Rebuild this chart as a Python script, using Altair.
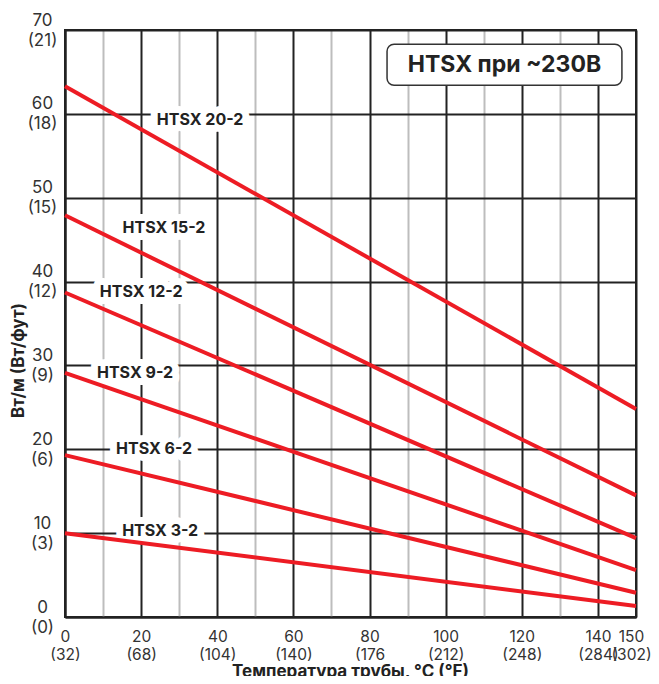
import json
import altair as alt
import pandas as pd

# ---- data ----
temps_c = [0, 150]
series_names = ["HTSX 20-2", "HTSX 15-2", "HTSX 12-2", "HTSX 9-2", "HTSX 6-2", "HTSX 3-2"]
watts_at_start = [63.3, 47.9, 38.7, 29.1, 19.3, 10.0]
watts_at_end = [24.8, 14.5, 9.4, 5.6, 2.9, 1.3]

label_temp = [35.5, 26.0, 20.0, 18.4, 23.4, 25.0]
label_watts = [59.3, 46.4, 38.8, 29.1, 20.0, 10.3]

x_tick_values = [0, 10, 20, 30, 40, 50, 60, 70, 80, 90, 100, 110, 120, 130, 140, 150]
x_tick_c = ["0", "", "20", "", "40", "", "60", "", "80", "", "100", "", "120", "", "140", "150"]
x_tick_f = ["(32)", "", "(68)", "", "(104)", "", "(140)", "", "(176", "", "(212)", "", "(248)", "", "(284)", "(302)"]

y_tick_values = [0, 10, 20, 30, 40, 50, 60, 70]
y_tick_w = ["0", "10", "20", "30", "40", "50", "60", "70"]
y_tick_ft = ["(0)", "(3)", "(6)", "(9)", "(12)", "(15)", "(18)", "(21)"]

box_text = "HTSX при ~230В"
box_temp = [84.6, 146.3]
box_watts = [63.4, 68.3]

# ---- tables ----
rows = []
for name, w0, w1 in zip(series_names, watts_at_start, watts_at_end):
    rows.append({"series": name, "t": temps_c[0], "w": w0})
    rows.append({"series": name, "t": temps_c[1], "w": w1})
lines_df = pd.DataFrame(rows)

labels_df = pd.DataFrame({"series": series_names, "t": label_temp, "w": label_watts})
box_df = pd.DataFrame({"t": [box_temp[0]], "t2": [box_temp[1]], "w": [box_watts[0]], "w2": [box_watts[1]]})
box_text_df = pd.DataFrame({"t": [(box_temp[0] + box_temp[1]) / 2],
                            "w": [(box_watts[0] + box_watts[1]) / 2], "series": [box_text]})

x_lab = [[c, f] if c else "" for c, f in zip(x_tick_c, x_tick_f)]
y_lab = [[a, b] for a, b in zip(y_tick_w, y_tick_ft)]
x_expr = json.dumps(x_lab, ensure_ascii=False) + "[round(datum.value/10)]"
y_expr = json.dumps(y_lab, ensure_ascii=False) + "[round(datum.value/10)]"

FONT = "Inter"
RED = "#ED1C24"
DARK = "#222222"

xscale = alt.Scale(domain=[0, 150], nice=False, zero=False)
yscale = alt.Scale(domain=[0, 70], nice=False, zero=False)

grid_color = alt.condition("datum.value % 20 == 0 || datum.value == 150",
                           alt.value(DARK), alt.value("#bdbdbd"))
x_label_shift = alt.condition("datum.value == 150", alt.value(-5),
                              alt.value(0))

x_axis = alt.Axis(
    values=x_tick_values, labelExpr=x_expr, labelOverlap=False, labelFlush=False,
    ticks=False, tickSize=0, labelPadding=19, labelFontSize=15.5, labelLineHeight=18,
    labelFont=FONT, labelColor="#333", labelBaseline="middle", labelOffset=x_label_shift,
    grid=True, gridColor=grid_color, gridWidth=2, gridOpacity=1,
    domain=True, domainColor=DARK, domainWidth=2,
    title="Температура трубы, °C (°F)", titleFont=FONT, titleFontSize=17,
    titleFontWeight="bold", titleColor=DARK, titleX=285, titleY=59,
    titleBaseline="alphabetic", titleAlign="center",
)
y_axis = alt.Axis(
    values=y_tick_values, labelExpr=y_expr, labelOverlap=False, labelFlush=False,
    ticks=False, tickSize=0, labelPadding=23, labelFontSize=17, labelLineHeight=20,
    labelFont=FONT, labelColor="#333", labelAlign="center", labelBaseline="middle",
    labelOffset=-10,
    grid=True, gridColor=DARK, gridWidth=2, gridOpacity=1,
    domain=True, domainColor=DARK, domainWidth=2,
    title="Вт/м (Вт/фут)", titleFont=FONT, titleFontSize=17,
    titleFontWeight="bold", titleColor=DARK, titleX=-47, titleY=330,
    titleBaseline="middle", titleAlign="center", titleAngle=270,
)

X = alt.X("t:Q", scale=xscale, axis=x_axis)
Y = alt.Y("w:Q", scale=yscale, axis=y_axis)

lines = alt.Chart(lines_df).mark_line(color=RED, strokeWidth=4).encode(
    x=X, y=Y, detail="series:N",
)

halo = alt.Chart(labels_df).mark_text(
    font=FONT, fontSize=16, fontWeight="bold", color="white",
    stroke="white", strokeWidth=14, strokeJoin="round", align="center", baseline="middle",
).encode(x=X, y=Y, text="series:N")

labels = alt.Chart(labels_df).mark_text(
    font=FONT, fontSize=16, fontWeight="bold", color=DARK, align="center", baseline="middle",
).encode(x=X, y=Y, text="series:N")

box = alt.Chart(box_df).mark_rect(
    fill="white", stroke="#333", strokeWidth=1.5, cornerRadius=7,
).encode(x=X, x2="t2:Q", y=Y, y2="w2:Q")

box_label = alt.Chart(box_text_df).mark_text(
    font=FONT, fontSize=23, fontWeight="bold", color=DARK, align="center", baseline="middle",
).encode(x=X, y=Y, text="series:N")

chart = alt.layer(halo, lines, labels, box, box_label).properties(
    width=571, height=587,
    autosize=alt.AutoSizeParams(type="none"),
    padding={"left": 57, "top": 22, "right": 15, "bottom": 59},
).configure_view(stroke=DARK, strokeWidth=2)

chart.save("out.html", embed_options={"renderer": "svg", "actions": False})
